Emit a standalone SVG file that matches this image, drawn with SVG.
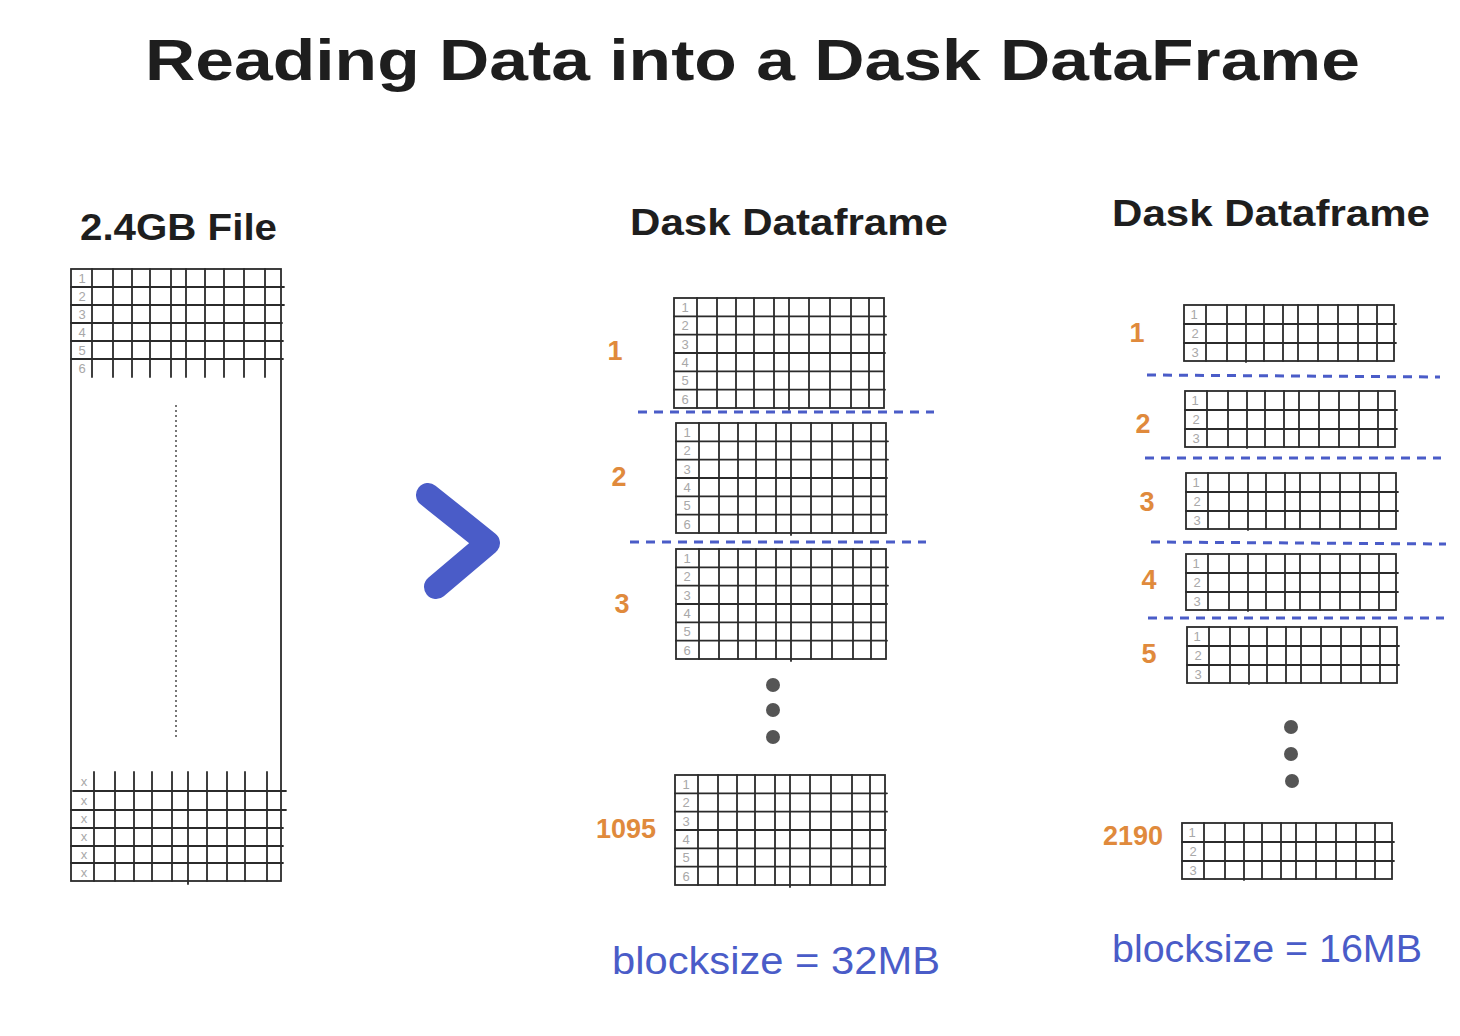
<svg xmlns="http://www.w3.org/2000/svg" xmlns:xlink="http://www.w3.org/1999/xlink" width="1460" height="1036" viewBox="0 0 1460 1036">
<style>
.g{fill:none;stroke:#2b2b2b;stroke-width:1.8;stroke-linecap:round}
.idx{font-family:"Liberation Sans",Arial,sans-serif;font-size:13px;fill:#a8a8a8;text-anchor:middle}
.hd{font-family:"Liberation Sans",Arial,sans-serif;fill:#1e1e1e;font-weight:bold}
.num{font-family:"Liberation Sans",Arial,sans-serif;font-size:27px;fill:#e08a3c;text-anchor:middle;font-weight:bold}
.bs{font-family:"Liberation Sans",Arial,sans-serif;font-size:38px;fill:#4a5cc8}
.sep{fill:none;stroke:#4a5cc8;stroke-width:3;stroke-dasharray:9 7}
.dot{fill:#555}
</style>
<defs>
<g id="grid6">
<rect class="g" x="0" y="0" width="210" height="110"/>
<path class="g" d="M0 18.3H212M0 36.7H212M0 55H211M0 73.3H210M0 91.7H211M23 0V110M43 0V110M62 0V110M80 0V110M100 0V110M115 0V112M135 0V110M156 0V110M177 0V110M195 0V110"/>
<text class="idx" x="11" y="14">1</text>
<text class="idx" x="11" y="32">2</text>
<text class="idx" x="11" y="51">3</text>
<text class="idx" x="11" y="69">4</text>
<text class="idx" x="11" y="87">5</text>
<text class="idx" x="11" y="106">6</text>
</g>
<g id="grid3">
<rect class="g" x="0" y="0" width="210" height="56"/>
<path class="g" d="M0 19H212M0 38H212M22 0V56M43 0V56M62 0V57M80 0V56M99 0V56M114 0V56M134 0V56M154 0V56M174 0V56M193 0V56"/>
<text class="idx" x="10" y="14">1</text>
<text class="idx" x="11" y="33">2</text>
<text class="idx" x="11" y="52">3</text>
</g>
</defs>
<rect width="1460" height="1036" fill="#ffffff"/>

<g id="title">
<text class="hd" x="145" y="80" font-size="58" textLength="1215" lengthAdjust="spacingAndGlyphs">Reading Data into a Dask DataFrame</text>
</g>

<g id="file">
<text class="hd" x="80" y="240" font-size="36" textLength="197" lengthAdjust="spacingAndGlyphs">2.4GB File</text>
<rect class="g" x="71" y="269" width="210" height="612"/>
<path class="g" d="M71 287H284M71 305H284M71 323H282M71 341H283M71 359H283M92 269V377M113 269V377M132 269V377M150 269V377M171 269V377M186 269V377M205 269V377M224 269V377M244 269V377M265 269V377"/>
<text class="idx" x="82" y="283">1</text>
<text class="idx" x="82" y="301">2</text>
<text class="idx" x="82" y="319">3</text>
<text class="idx" x="82" y="337">4</text>
<text class="idx" x="82" y="355">5</text>
<text class="idx" x="82" y="373">6</text>
<path d="M176 405V740" stroke="#555" stroke-width="1.6" stroke-dasharray="2 3" fill="none"/>
<path class="g" d="M73 791H286M71 810H286M71 828H283M71 846H283M71 863H283M94 772V881M115 772V881M134 772V881M152 772V881M172 772V881M188 772V884M207 772V881M227 772V881M245 772V881M267 772V881"/>
<text class="idx" x="84" y="786" font-size="10">x</text>
<text class="idx" x="84" y="805" font-size="10">x</text>
<text class="idx" x="84" y="823" font-size="10">x</text>
<text class="idx" x="84" y="841" font-size="10">x</text>
<text class="idx" x="84" y="859" font-size="10">x</text>
<text class="idx" x="84" y="877" font-size="10">x</text>
</g>

<g id="connectors">
<path d="M428 495L488 543L436 587" fill="none" stroke="#4a5cc8" stroke-width="24" stroke-linecap="round" stroke-linejoin="round"/>
</g>

<g id="df32">
<text class="hd" x="630" y="235" font-size="36" textLength="318" lengthAdjust="spacingAndGlyphs">Dask Dataframe</text>
<g id="p32-1"><use xlink:href="#grid6" transform="translate(674,298)"/><text class="num" x="615" y="360">1</text></g>
<g id="p32-2"><use xlink:href="#grid6" transform="translate(676,423)"/><text class="num" x="619" y="486">2</text></g>
<g id="p32-3"><use xlink:href="#grid6" transform="translate(676,549)"/><text class="num" x="622" y="613">3</text></g>
<g id="p32-1095"><use xlink:href="#grid6" transform="translate(675,775)"/><text class="num" x="626" y="838">1095</text></g>
<circle class="dot" cx="773" cy="685" r="7"/>
<circle class="dot" cx="773" cy="710" r="7"/>
<circle class="dot" cx="773" cy="737" r="7"/>
<text class="bs" x="612" y="974" textLength="328" lengthAdjust="spacingAndGlyphs">blocksize = 32MB</text>
</g>

<g id="df16">
<text class="hd" x="1112" y="226" font-size="36" textLength="318" lengthAdjust="spacingAndGlyphs">Dask Dataframe</text>
<g id="p16-1"><use xlink:href="#grid3" transform="translate(1184,305)"/><text class="num" x="1137" y="342">1</text></g>
<g id="p16-2"><use xlink:href="#grid3" transform="translate(1185,391)"/><text class="num" x="1143" y="433">2</text></g>
<g id="p16-3"><use xlink:href="#grid3" transform="translate(1186,473)"/><text class="num" x="1147" y="511">3</text></g>
<g id="p16-4"><use xlink:href="#grid3" transform="translate(1186,554)"/><text class="num" x="1149" y="589">4</text></g>
<g id="p16-5"><use xlink:href="#grid3" transform="translate(1187,627)"/><text class="num" x="1149" y="663">5</text></g>
<g id="p16-2190"><use xlink:href="#grid3" transform="translate(1182,823)"/><text class="num" x="1133" y="845">2190</text></g>
<circle class="dot" cx="1291" cy="727" r="7"/>
<circle class="dot" cx="1291" cy="754" r="7"/>
<circle class="dot" cx="1292" cy="781" r="7"/>
<text class="bs" x="1112" y="962" textLength="310" lengthAdjust="spacingAndGlyphs">blocksize = 16MB</text>
</g>

<g id="separators">
<path class="sep" d="M638 412H934"/>
<path class="sep" d="M630 542H926"/>
<path class="sep" d="M1147 375L1440 377"/>
<path class="sep" d="M1145 458H1441"/>
<path class="sep" d="M1151 542L1446 544"/>
<path class="sep" d="M1148 618H1444"/>
</g>
</svg>
